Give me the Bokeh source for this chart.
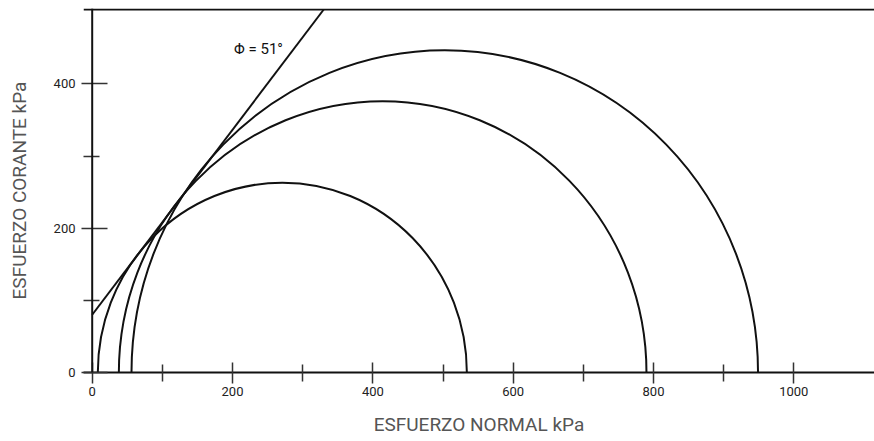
from bokeh.plotting import figure
from bokeh.models import Span, FixedTicker, Label, Range1d
from bokeh.embed import file_html
from bokeh.resources import INLINE

# ---- data (kPa) ----
sigma3 = [8, 38, 56]          # left ends of the Mohr circles
sigma1 = [534, 790, 949]      # right ends of the Mohr circles
env_x = [0, 330]              # failure envelope
env_y = [80, 503]
top_line_y = 503
phi_text = "Φ = 51°"
phi_pos = (237, 448)
x_major = [0, 200, 400, 600, 800, 1000]
x_minor = [100, 300, 500, 700, 900]
y_major = [0, 200, 400]
y_minor = [100, 300]
x_title = "ESFUERZO NORMAL kPa"
y_title = "ESFUERZO CORANTE kPa"

centers = [(a + b) / 2 for a, b in zip(sigma3, sigma1)]
diams = [b - a for a, b in zip(sigma3, sigma1)]

FONT = "Roboto"
INK = "#111111"

p = figure(width=874, height=441, output_backend="svg", toolbar_location=None,
           x_range=Range1d(-12.4, 1115), y_range=Range1d(0, 504.4),
           min_border_left=83, min_border_right=0, min_border_top=8,
           min_border_bottom=69)
p.outline_line_color = None
p.xgrid.visible = False
p.ygrid.visible = False

# circles (lower halves fall outside the frame)
p.ellipse(x=centers, y=0, width=diams, height=diams, fill_color=None,
          line_color=INK, line_width=2)
# envelope
p.line(env_x, env_y, line_color=INK, line_width=2)

# y-axis line at x = 0 and the top border line
p.add_layout(Span(location=0, dimension="height", line_color=INK, line_width=2))
p.add_layout(Span(location=top_line_y, dimension="width", line_color=INK, line_width=2))

p.add_layout(Label(x=phi_pos[0], y=phi_pos[1], text=phi_text, text_align="center",
                   text_baseline="middle", text_font=FONT, text_font_size="15px",
                   text_color=INK))

xa = p.xaxis[0]
xa.ticker = FixedTicker(ticks=x_major, minor_ticks=x_minor)
xa.axis_line_width = 2
xa.axis_line_color = INK
xa.major_tick_in = 10
xa.major_tick_out = 11
xa.minor_tick_in = 8
xa.minor_tick_out = 9
xa.major_tick_line_width = 1.5
xa.minor_tick_line_width = 1.5
xa.major_tick_line_color = "#333333"
xa.minor_tick_line_color = "#333333"
xa.major_label_standoff = 3
xa.major_label_text_font = FONT
xa.major_label_text_font_size = "13px"
xa.major_label_text_color = "#222222"
xa.axis_label = x_title
xa.axis_label_text_font = FONT
xa.axis_label_text_font_size = "19px"
xa.axis_label_text_font_style = "normal"
xa.axis_label_text_color = "#555555"
xa.axis_label_standoff = 14

ya = p.yaxis[0]
ya.ticker = FixedTicker(ticks=y_major, minor_ticks=y_minor)
ya.axis_line_color = None
ya.major_tick_in = 24
ya.major_tick_out = 2
ya.minor_tick_in = 16
ya.minor_tick_out = 0
ya.major_tick_line_width = 1.5
ya.minor_tick_line_width = 1.5
ya.major_tick_line_color = "#333333"
ya.minor_tick_line_color = "#333333"
ya.major_label_standoff = 6
ya.major_label_text_font = FONT
ya.major_label_text_font_size = "13px"
ya.major_label_text_color = "#222222"
ya.axis_label = y_title
ya.axis_label_text_font = FONT
ya.axis_label_text_font_size = "19px"
ya.axis_label_text_font_style = "normal"
ya.axis_label_text_color = "#555555"
ya.axis_label_standoff = 20

open("out.html", "w").write(file_html(p, INLINE))
